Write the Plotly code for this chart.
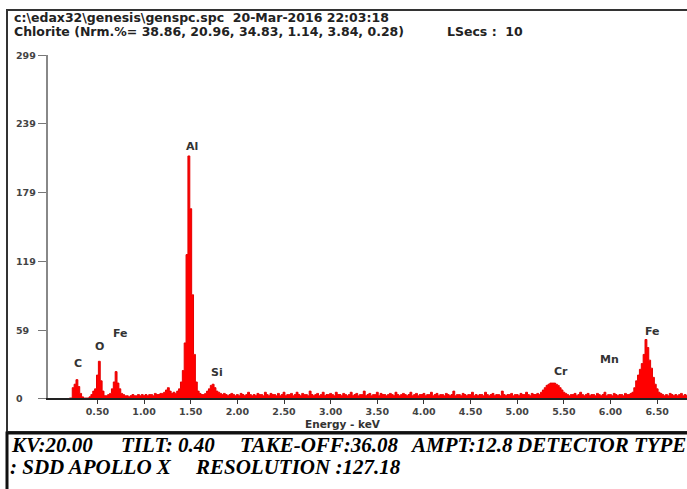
import plotly.graph_objects as go

# ---------------- data ----------------
channel_start_kev = 0.20
channel_width_kev = 0.02
counts = [
    0, 0, 9, 12, 16, 10, 4, 1, 0, 0,          # 0.20
    0, 1, 3, 6, 8, 20, 32, 15, 6, 2,          # 0.40
    2, 3, 4, 8, 14, 23, 13, 8, 4, 3,          # 0.60
    2, 2, 1, 2, 3, 2, 2, 3, 2, 3,             # 0.80
    2, 3, 2, 3, 3, 2, 4, 3, 3, 4,             # 1.00
    4, 5, 7, 9, 6, 4, 5, 4, 6, 8,             # 1.20
    14, 24, 48, 125, 211, 165, 90, 38, 14, 6, # 1.40
    4, 3, 3, 4, 6, 8, 11, 12, 9, 6,           # 1.60
    5, 4, 3, 4, 3, 2, 3, 4, 3, 2,             # 1.80
    3, 2, 4, 3, 2, 3, 5, 3, 2, 3,             # 2.00
    2, 4, 3, 3, 2, 5, 3, 2, 4, 3,             # 2.20
    3, 2, 4, 2, 3, 5, 2, 3, 3, 4,             # 2.40
    2, 3, 5, 3, 2, 4, 3, 3, 2, 6,             # 2.60
    3, 2, 3, 4, 2, 3, 5, 2, 3, 3,             # 2.80
    4, 3, 2, 5, 3, 3, 2, 4, 3, 2,             # 3.00
    3, 5, 2, 3, 4, 2, 3, 3, 6, 2,             # 3.20
    3, 4, 2, 3, 3, 5, 2, 4, 3, 3,             # 3.40
    2, 3, 4, 3, 2, 5, 3, 2, 3, 4,             # 3.60
    3, 2, 3, 5, 2, 3, 4, 2, 3, 3,             # 3.80
    4, 2, 3, 3, 5, 2, 3, 4, 2, 3,             # 4.00
    3, 2, 4, 3, 2, 3, 6, 2, 3, 3,             # 4.20
    2, 4, 3, 2, 3, 3, 5, 2, 3, 2,             # 4.40
    3, 3, 2, 5, 3, 2, 3, 4, 2, 3,             # 4.60
    3, 2, 6, 3, 2, 3, 3, 4, 2, 3,             # 4.80
    3, 2, 4, 3, 3, 5, 3, 2, 4, 3,             # 5.00
    3, 4, 3, 5, 7, 9, 11, 12, 13, 13,         # 5.20
    13, 12, 11, 9, 7, 5, 4, 3, 2, 3,          # 5.40
    3, 4, 2, 3, 5, 3, 2, 3, 4, 2,             # 5.60
    3, 3, 2, 4, 3, 2, 3, 5, 2, 3,             # 5.80
    3, 2, 4, 3, 2, 3, 3, 2, 4, 3,             # 6.00
    3, 4, 5, 9, 15, 20, 25, 30, 38, 51,       # 6.20
    44, 33, 26, 18, 12, 8, 5, 4, 3, 2,        # 6.40
    3, 2, 4, 3, 2, 3, 2, 3, 4, 2,             # 6.60
    3, 2, 3, 3, 2,                            # 6.80
]
energy_kev = [round(channel_start_kev + i * channel_width_kev, 2) for i in range(len(counts))]

x_tick_values = [0.5, 1.0, 1.5, 2.0, 2.5, 3.0, 3.5, 4.0, 4.5, 5.0, 5.5, 6.0, 6.5]
x_tick_labels = ["0.50", "1.00", "1.50", "2.00", "2.50", "3.00", "3.50",
                 "4.00", "4.50", "5.00", "5.50", "6.00", "6.50"]
y_tick_values = [0, 59, 119, 179, 239, 299]
y_tick_labels = ["0", "59", "119", "179", "239", "299"]

element_labels = ["C", "O", "Fe", "Al", "Si", "Cr", "Mn", "Fe"]

header_line1 = "c:\\edax32\\genesis\\genspc.spc  20-Mar-2016 22:03:18"
header_line2 = "Chlorite (Nrm.%= 38.86, 20.96, 34.83, 1.14, 3.84, 0.28)"
header_lsecs = "LSecs :  10"
footer_line1 = ["KV:20.00", "TILT: 0.40", "TAKE-OFF:36.08", "AMPT:12.8", "DETECTOR TYPE"]
footer_line2 = [": SDD APOLLO X", "RESOLUTION :127.18"]

# ---------------- layout helpers (pixel -> paper) ----------------
W, H = 687, 489
L, R, T, B = 48, 0, 55, 91
PW, PH = W - L - R, H - T - B


def px(x):
    return (x - L) / PW


def py(y):
    return (H - B - y) / PH


fig = go.Figure()
fig.add_trace(go.Scatter(
    x=energy_kev, y=counts, mode="lines",
    line=dict(shape="hvh", color="#e60000", width=1),
    fill="tozeroy", fillcolor="#ff0000",
    hoverinfo="x+y", showlegend=False,
))

lab_font = dict(family="DejaVu Sans", size=9.5, color="#444444")

annotations = []
# y tick labels, left aligned as in the reference
for v, t in zip(y_tick_values, y_tick_labels):
    annotations.append(dict(x=px(14), y=v, xref="paper", yref="y",
                            text="<b>%s</b>" % t, showarrow=False,
                            xanchor="left", yanchor="middle", font=lab_font))

# element labels (pixel positions of the text centres)
element_label_px = [(78, 363), (99, 346), (120, 333), (192, 146),
                    (217, 372), (561, 371), (609, 359), (652, 331)]
for txt, (ex, ey) in zip(element_labels, element_label_px):
    annotations.append(dict(x=px(ex), y=py(ey), xref="paper", yref="paper",
                            text="<b>%s</b>" % txt, showarrow=False,
                            xanchor="center", yanchor="middle",
                            font=dict(family="DejaVu Sans", size=11, color="#333333")))

# axis title
annotations.append(dict(x=px(343), y=py(424), xref="paper", yref="paper",
                        text="<b>Energy - keV</b>", showarrow=False,
                        xanchor="center", yanchor="middle",
                        font=dict(family="DejaVu Sans", size=10.5, color="#333333")))

# header
hdr_font = dict(family="DejaVu Sans", size=12.5, color="#222222")
for txt, hx, hy in [(header_line1, 12, 17), (header_line2, 12, 31), (header_lsecs, 445, 31)]:
    annotations.append(dict(x=px(hx), y=py(hy), xref="paper", yref="paper",
                            text="<b>%s</b>" % txt, showarrow=False,
                            xanchor="left", yanchor="middle", font=hdr_font))

# footer
ftr_font = dict(family="Liberation Serif", size=21, color="#000000")
for txt, fx in zip(footer_line1, [9, 119, 238, 408, 514]):
    annotations.append(dict(x=px(fx), y=py(445), xref="paper", yref="paper",
                            text="<b><i>%s</i></b>" % txt, showarrow=False,
                            xanchor="left", yanchor="middle", font=ftr_font))
for txt, fx in zip(footer_line2, [8, 193]):
    annotations.append(dict(x=px(fx), y=py(467), xref="paper", yref="paper",
                            text="<b><i>%s</i></b>" % txt, showarrow=False,
                            xanchor="left", yanchor="middle", font=ftr_font))

shapes = [
    # upper frame
    dict(type="rect", xref="paper", yref="paper",
         x0=px(7), x1=px(695), y0=py(432), y1=py(10),
         line=dict(color="#333333", width=2)),
    # lower info box
    dict(type="rect", xref="paper", yref="paper",
         x0=px(7), x1=px(695), y0=py(495), y1=py(433),
         line=dict(color="#111111", width=3)),
]

fig.update_layout(
    width=W, height=H,
    margin=dict(l=L, r=R, t=T, b=B, pad=0),
    paper_bgcolor="white", plot_bgcolor="white",
    showlegend=False,
    annotations=annotations,
    shapes=shapes,
    xaxis=dict(
        range=[-0.03, 6.82], showgrid=False, zeroline=False,
        showline=True, linecolor="#222222", linewidth=2,
        ticks="outside", ticklen=4, tickwidth=1, tickcolor="#333333",
        tickvals=x_tick_values, ticktext=["<b>%s</b>" % t for t in x_tick_labels],
        tickfont=lab_font,
    ),
    yaxis=dict(
        range=[0, 299], showgrid=False, zeroline=False,
        showline=True, linecolor="#888888", linewidth=1.5,
        ticks="outside", ticklen=8, tickwidth=1, tickcolor="#777777",
        tickvals=y_tick_values, showticklabels=False,
    ),
)

fig.write_html("out.html")
